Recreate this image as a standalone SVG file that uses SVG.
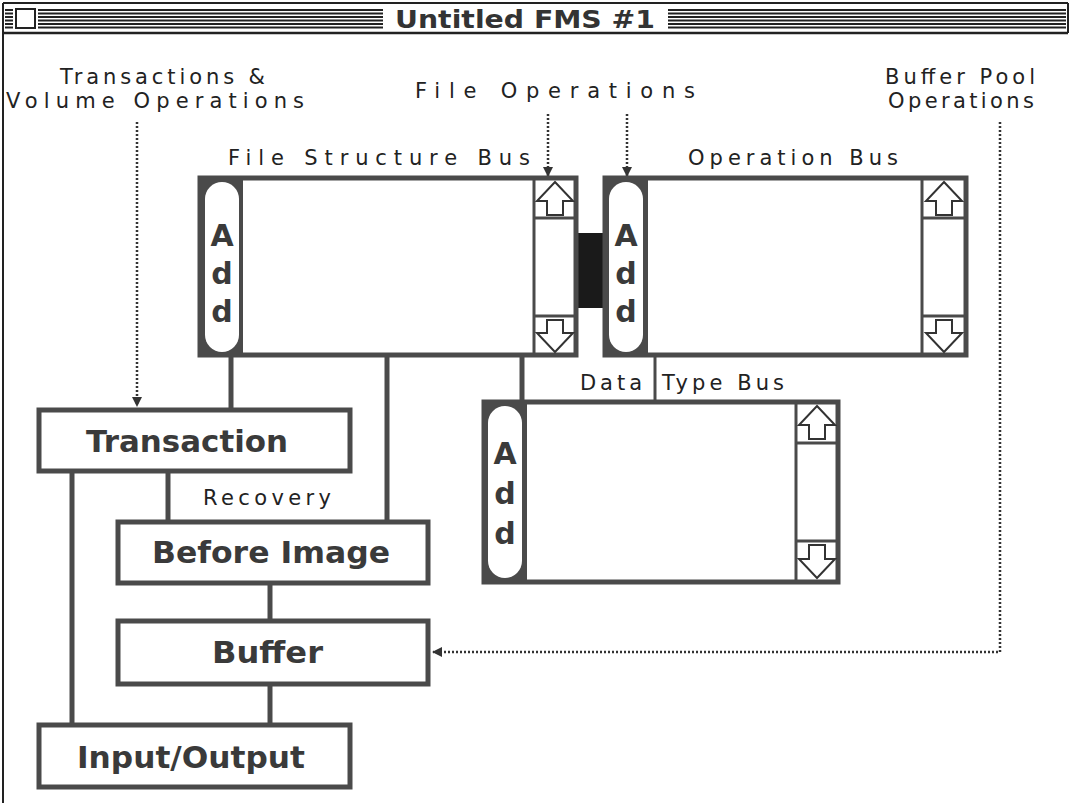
<svg xmlns="http://www.w3.org/2000/svg" width="1071" height="803" viewBox="0 0 1071 803">
<style>
.frame{fill:none;stroke:#222;stroke-width:2}
.stripe{stroke:#222;stroke-width:2}
.box{fill:#fff;stroke:#4a4a4a;stroke-width:5}
.col{fill:#4a4a4a}
.pill{fill:#fff}
.sb{stroke:#4a4a4a;stroke-width:3;fill:none}
.arr{fill:#fff;stroke:#333;stroke-width:2;stroke-linejoin:miter}
.line{stroke:#4a4a4a;stroke-width:5;fill:none}
.thin{stroke:#4a4a4a;stroke-width:3;fill:none}
.dot{stroke:#333;stroke-width:2.5;stroke-dasharray:2 2;fill:none}
.lbl{font-family:"DejaVu Sans",sans-serif;font-size:21px;fill:#222}
.bold{font-family:"DejaVu Sans",sans-serif;font-weight:bold;font-size:30px;fill:#3a3a3a}
.add{font-family:"DejaVu Sans",sans-serif;font-weight:bold;font-size:30px;fill:#3a3a3a;text-anchor:middle}
.title{font-family:"DejaVu Sans",sans-serif;font-weight:bold;font-size:25px;fill:#333}
</style>
<defs>
<marker id="ah" viewBox="0 0 10 10" refX="9" refY="5" markerWidth="4" markerHeight="4" orient="auto" markerUnits="strokeWidth">
<path d="M0,0 L10,5 L0,10 z" fill="#333"/>
</marker>
</defs>
<rect x="0" y="0" width="1071" height="803" fill="#fff"/>
<g id="window">
<line class="frame" x1="3" y1="3" x2="1068" y2="3"/>
<line class="frame" x1="3" y1="3" x2="3" y2="803"/>
<line class="frame" x1="1068" y1="3" x2="1068" y2="33"/>
<line x1="3" y1="33" x2="1068" y2="33" stroke="#222" stroke-width="2.5"/>
<g class="stripe">
<line x1="5" y1="10" x2="13" y2="10"/><line x1="5" y1="13.5" x2="13" y2="13.5"/><line x1="5" y1="17" x2="13" y2="17"/><line x1="5" y1="20.5" x2="13" y2="20.5"/><line x1="5" y1="24" x2="13" y2="24"/><line x1="5" y1="27.5" x2="13" y2="27.5"/>
<line x1="38" y1="10" x2="383" y2="10"/><line x1="38" y1="13.5" x2="383" y2="13.5"/><line x1="38" y1="17" x2="383" y2="17"/><line x1="38" y1="20.5" x2="383" y2="20.5"/><line x1="38" y1="24" x2="383" y2="24"/><line x1="38" y1="27.5" x2="383" y2="27.5"/>
<line x1="668" y1="10" x2="1066" y2="10"/><line x1="668" y1="13.5" x2="1066" y2="13.5"/><line x1="668" y1="17" x2="1066" y2="17"/><line x1="668" y1="20.5" x2="1066" y2="20.5"/><line x1="668" y1="24" x2="1066" y2="24"/><line x1="668" y1="27.5" x2="1066" y2="27.5"/>
</g>
<rect x="16" y="9" width="19" height="19" fill="#fff" stroke="#222" stroke-width="2"/>
<text class="title" x="395" y="28" textLength="260" lengthAdjust="spacingAndGlyphs">Untitled FMS #1</text>
</g>
<g id="labels">
<text class="lbl" x="60" y="84" textLength="205" lengthAdjust="spacing">Transactions &amp;</text>
<text class="lbl" x="6" y="108" textLength="298" lengthAdjust="spacing">Volume Operations</text>
<text class="lbl" x="415" y="98" textLength="280" lengthAdjust="spacing">File Operations</text>
<text class="lbl" x="885" y="84" textLength="150" lengthAdjust="spacing">Buffer Pool</text>
<text class="lbl" x="888" y="108" textLength="146" lengthAdjust="spacing">Operations</text>
</g>
<g id="connectors">
<line class="line" x1="231" y1="356" x2="231" y2="410"/>
<line class="line" x1="387" y1="356" x2="387" y2="522"/>
<line class="line" x1="522" y1="356" x2="522" y2="402"/>
<line class="thin" x1="655" y1="356" x2="655" y2="402"/>
<line class="line" x1="72" y1="471" x2="72" y2="725"/>
<line class="line" x1="168" y1="471" x2="168" y2="522"/>
<line class="line" x1="270" y1="583" x2="270" y2="621"/>
<line class="line" x1="270" y1="684" x2="270" y2="725"/>
<line class="dot" x1="137" y1="122" x2="137" y2="406" marker-end="url(#ah)"/>
<line class="dot" x1="548" y1="114" x2="548" y2="176" marker-end="url(#ah)"/>
<line class="dot" x1="627" y1="114" x2="627" y2="176" marker-end="url(#ah)"/>
<path class="dot" d="M1000,122 V652 H433" marker-end="url(#ah)"/>
<rect x="576" y="233" width="30" height="75" fill="#1a1a1a"/>
</g>
<g id="file-structure-bus">
<text class="lbl" x="228" y="165" textLength="302" lengthAdjust="spacing">File Structure Bus</text>
<rect class="box" x="200" y="178" width="376" height="177"/>
<rect class="col" x="200" y="178" width="43" height="177"/>
<rect class="pill" x="205" y="182" width="34" height="170" rx="17"/>
<text class="add" x="222" y="246">A</text><text class="add" x="222" y="284">d</text><text class="add" x="222" y="322">d</text>
<line class="sb" x1="534" y1="178" x2="534" y2="355"/>
<line class="sb" x1="534" y1="218" x2="576" y2="218"/>
<line class="sb" x1="534" y1="316" x2="576" y2="316"/>
<path class="arr" d="M555,182 L573,201 L563,201 L563,215 L547,215 L547,201 L537,201 Z"/>
<path class="arr" d="M555,352 L573,333 L563,333 L563,320 L547,320 L547,333 L537,333 Z"/>
</g>
<g id="operation-bus">
<text class="lbl" x="688" y="165" textLength="210" lengthAdjust="spacing">Operation Bus</text>
<rect class="box" x="605" y="178" width="361" height="177"/>
<rect class="col" x="605" y="178" width="43" height="177"/>
<rect class="pill" x="609" y="182" width="34" height="170" rx="17"/>
<text class="add" x="626" y="246">A</text><text class="add" x="626" y="284">d</text><text class="add" x="626" y="322">d</text>
<line class="sb" x1="922" y1="178" x2="922" y2="355"/>
<line class="sb" x1="922" y1="218" x2="966" y2="218"/>
<line class="sb" x1="922" y1="316" x2="966" y2="316"/>
<path class="arr" d="M944,182 L962,201 L952,201 L952,215 L936,215 L936,201 L926,201 Z"/>
<path class="arr" d="M944,352 L962,333 L952,333 L952,320 L936,320 L936,333 L926,333 Z"/>
</g>
<g id="data-type-bus">
<text class="lbl" x="580" y="390" textLength="62" lengthAdjust="spacing">Data</text>
<text class="lbl" x="662" y="390" textLength="122" lengthAdjust="spacing">Type Bus</text>
<rect class="box" x="484" y="402" width="354" height="180"/>
<rect class="col" x="484" y="402" width="43" height="180"/>
<rect class="pill" x="488" y="406" width="34" height="172" rx="17"/>
<text class="add" x="505" y="464">A</text><text class="add" x="505" y="504">d</text><text class="add" x="505" y="544">d</text>
<line class="sb" x1="796" y1="402" x2="796" y2="582"/>
<line class="sb" x1="796" y1="443" x2="838" y2="443"/>
<line class="sb" x1="796" y1="541" x2="838" y2="541"/>
<path class="arr" d="M817,406 L835,425 L825,425 L825,439 L809,439 L809,425 L799,425 Z"/>
<path class="arr" d="M817,578 L835,559 L825,559 L825,545 L809,545 L809,559 L799,559 Z"/>
</g>
<g id="transaction">
<rect class="box" x="39" y="410" width="311" height="61"/>
<text class="bold" x="86" y="452" textLength="202" lengthAdjust="spacingAndGlyphs">Transaction</text>
</g>
<g id="recovery-label">
<text class="lbl" x="203" y="505" textLength="128" lengthAdjust="spacing">Recovery</text>
</g>
<g id="before-image">
<rect class="box" x="118" y="522" width="310" height="61"/>
<text class="bold" x="152" y="563" textLength="238" lengthAdjust="spacingAndGlyphs">Before Image</text>
</g>
<g id="buffer">
<rect class="box" x="118" y="621" width="310" height="63"/>
<text class="bold" x="212" y="663" textLength="111" lengthAdjust="spacingAndGlyphs">Buffer</text>
</g>
<g id="input-output">
<rect class="box" x="39" y="725" width="311" height="62"/>
<text class="bold" x="77" y="768" textLength="228" lengthAdjust="spacingAndGlyphs">Input/Output</text>
</g>
</svg>
